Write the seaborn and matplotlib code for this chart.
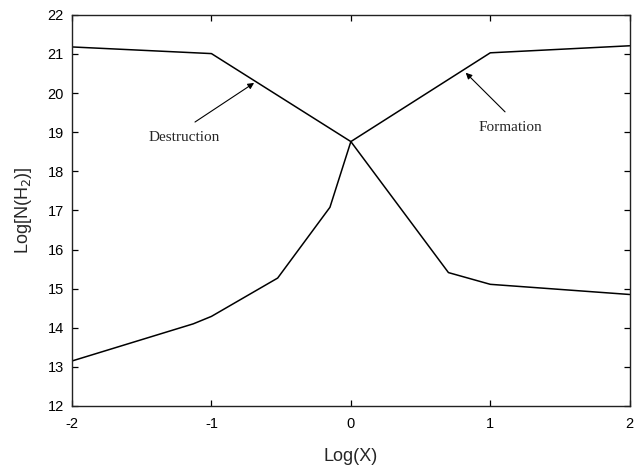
import matplotlib
matplotlib.use("Agg")
import matplotlib.pyplot as plt
import seaborn as sns
import pandas as pd

# Data
destruction_x = [-2.0, -1.0, 0.0, 0.7, 1.0, 2.0]
destruction_y = [21.18, 21.01, 18.76, 15.41, 15.11, 14.85]
formation_x = [-2.0, -1.13, -1.0, -0.525, -0.15, 0.0, 1.0, 2.0]
formation_y = [13.15, 14.1, 14.29, 15.27, 17.08, 18.76, 21.03, 21.21]
x_ticks = [-2, -1, 0, 1, 2]
y_ticks = list(range(12, 23))

df = pd.concat([
    pd.DataFrame({"x": destruction_x, "y": destruction_y, "curve": "Destruction"}),
    pd.DataFrame({"x": formation_x, "y": formation_y, "curve": "Formation"}),
], ignore_index=True)

sns.set_theme(style="ticks")
plt.rcParams['font.family'] = ['Liberation Sans', 'DejaVu Sans']

fig = plt.figure(figsize=(6.34, 4.65), dpi=100)
ax = fig.add_axes([0.1136, 0.127, 0.8796, 0.841])

sns.lineplot(data=df, x="x", y="y", units="curve", estimator=None, sort=False,
             color="black", linewidth=1.1, ax=ax, legend=False)

ax.set_xlim(-2, 2)
ax.set_ylim(12, 22)
ax.set_xticks(x_ticks)
ax.set_xticklabels([str(t) for t in x_ticks])
ax.set_yticks(y_ticks)
ax.set_yticklabels([str(t) for t in y_ticks])
ax.tick_params(direction="in", length=4, width=0.9, top=True, right=True,
               labelsize=10.5, colors="black")
ax.tick_params(axis="x", pad=8)
ax.tick_params(axis="y", pad=6)
for s in ax.spines.values():
    s.set_linewidth(1.0)
    s.set_color("#222222")

ax.set_xlabel("Log(X)", fontsize=13, labelpad=12.5)
ax.set_ylabel("Log[N(H$_2$)]", fontsize=13, labelpad=9.5)

serif = ['Liberation Serif', 'DejaVu Serif']
ax.annotate("", xy=(-0.694, 20.26), xytext=(-1.118, 19.26),
            arrowprops=dict(arrowstyle="-|>", color="black", lw=0.8,
                            mutation_scale=9, shrinkA=0, shrinkB=0))
ax.text(-1.196, 18.87, "Destruction", family=serif, fontsize=11,
        ha="center", va="center")
ax.annotate("", xy=(0.824, 20.52), xytext=(1.106, 19.52),
            arrowprops=dict(arrowstyle="-|>", color="black", lw=0.8,
                            mutation_scale=9, shrinkA=0, shrinkB=0))
ax.text(1.147, 19.11, "Formation", family=serif, fontsize=11,
        ha="center", va="center")

fig.savefig("out.png", dpi=100)
